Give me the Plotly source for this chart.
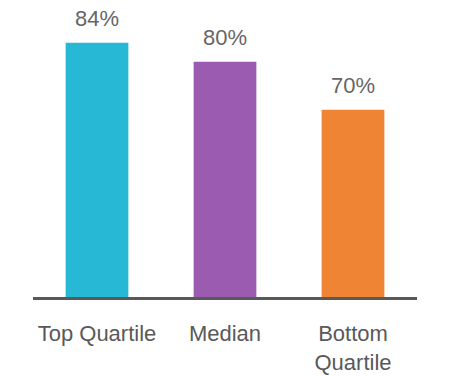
import plotly.graph_objects as go

categories = ["Top Quartile", "Median", "Bottom<br>Quartile"]
values = [84, 80, 70]
labels = ["84%", "80%", "70%"]
colors = ["#27B8D6", "#9B5BB1", "#EF8534"]

FONT = "Liberation Sans"

fig = go.Figure()
fig.add_trace(go.Bar(x=categories, y=values, marker=dict(color=colors, line=dict(width=0)),
                     hoverinfo="skip"))

for c, v, t in zip(categories, values, labels):
    fig.add_annotation(x=c, y=v, text=t, showarrow=False, yanchor="bottom", yshift=11,
                       borderpad=0,
                       font=dict(family=FONT, size=22, color="#666666"))

fig.update_layout(
    width=450, height=376,
    margin=dict(l=33, r=33, t=10, b=79, autoexpand=False),
    paper_bgcolor="white", plot_bgcolor="white",
    bargap=0.51,
    showlegend=False,
    font=dict(family=FONT, size=22, color="#595959"),
)
fig.update_xaxes(showline=True, linecolor="#595959", linewidth=3, showgrid=False,
                 automargin=False,
                 ticks="outside", ticklen=15, tickcolor="rgba(0,0,0,0)",
                 tickfont=dict(family=FONT, size=22, color="#595959"))
fig.update_yaxes(range=[31, 90.8], visible=False, showgrid=False, zeroline=False,
                 automargin=False)

fig.write_html("out.html", config={"displayModeBar": False},
               post_script="document.body.style.margin='0px';")
